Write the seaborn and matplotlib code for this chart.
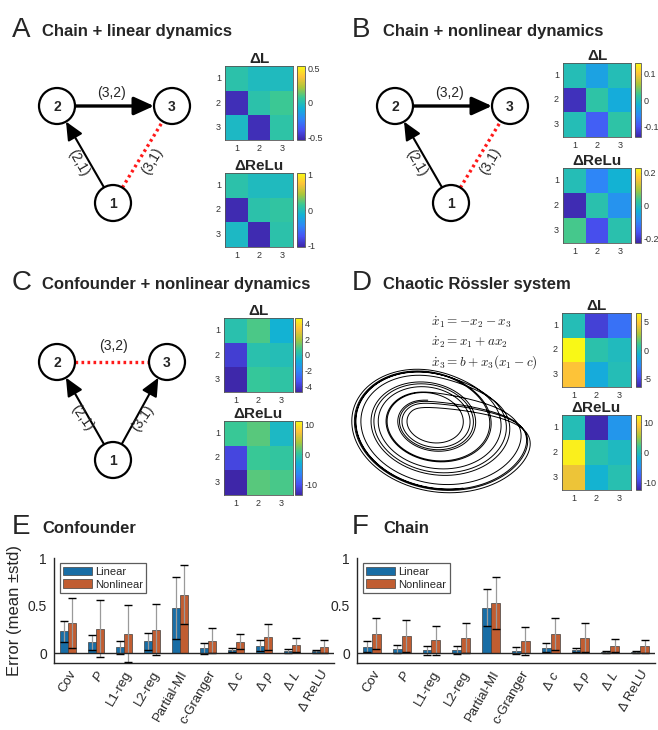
import numpy as np
import pandas as pd
import matplotlib
matplotlib.use("Agg")
import matplotlib.pyplot as plt
import seaborn as sns
from matplotlib.colors import LinearSegmentedColormap
from matplotlib.patches import Circle, FancyArrowPatch

# ---------------- data ----------------
methods = ["Cov", "P", "L1-reg", "L2-reg", "Partial-MI", "c-Granger", "Δc", "Δp", "ΔL", "ΔReLU"]
method_labels = ["Cov", "$P$", "L1-reg", "L2-reg", "Partial-MI", "c-Granger",
                 "Δ $c$", "Δ $p$", "Δ $L$", "Δ ReLU"]
dynamics = ["Linear", "Nonlinear"]

conf_lin_mean = [0.235, 0.117, 0.064, 0.128, 0.473, 0.053, 0.039, 0.082, 0.025, 0.021]
conf_lin_std = [0.110, 0.078, 0.068, 0.087, 0.325, 0.055, 0.022, 0.055, 0.020, 0.015]
conf_non_mean = [0.320, 0.260, 0.206, 0.250, 0.616, 0.135, 0.125, 0.174, 0.089, 0.071]
conf_non_std = [0.265, 0.295, 0.300, 0.270, 0.310, 0.135, 0.080, 0.133, 0.077, 0.068]
chain_lin_mean = [0.069, 0.045, 0.031, 0.035, 0.481, 0.028, 0.062, 0.035, 0.017, 0.014]
chain_lin_std = [0.058, 0.042, 0.042, 0.041, 0.190, 0.035, 0.050, 0.022, 0.011, 0.013]
chain_non_mean = [0.208, 0.183, 0.138, 0.163, 0.526, 0.131, 0.208, 0.166, 0.083, 0.073]
chain_non_std = [0.160, 0.163, 0.150, 0.160, 0.270, 0.150, 0.167, 0.150, 0.068, 0.069]

node_ticks = [1, 2, 3]
A_dL = [[0.03, -0.02, -0.02], [-0.50, 0.03, 0.08], [-0.03, -0.50, 0.04]]
A_dReLu = [[0.06, -0.04, -0.04], [-1.00, 0.06, 0.10], [-0.06, -1.00, 0.06]]
B_dL = [[0.00, -0.035, 0.00], [-0.13, 0.01, -0.025], [0.00, -0.09, 0.01]]
B_dReLu = [[0.00, -0.10, -0.03], [-0.22, 0.01, -0.08], [0.04, -0.17, 0.01]]
C_dL = [[0.2, 0.9, -0.6], [-4.0, 0.2, 0.0], [-4.7, 0.6, 0.4]]
C_dReLu = [[0.5, 1.5, -2.0], [-11.0, 0.5, 0.0], [-13.5, 1.5, 1.0]]
D_dL = [[0.0, -5.3, -3.5], [6.3, 0.3, -0.2], [4.5, -1.2, 0.0]]
D_dReLu = [[0.0, -12.0, -4.0], [11.5, 0.5, -0.5], [8.0, -1.5, 0.3]]

# ---------------- style ----------------
sns.set_style("white")
plt.rcParams["font.family"] = ["Liberation Sans", "DejaVu Sans"]
plt.rcParams["mathtext.fontset"] = "custom"
plt.rcParams["mathtext.rm"] = "Liberation Sans"
plt.rcParams["mathtext.it"] = "Liberation Sans:italic"
plt.rcParams["axes.unicode_minus"] = False

parula = LinearSegmentedColormap.from_list("parula", [
    (0.2422, 0.1504, 0.6603), (0.2810, 0.3228, 0.9579), (0.1786, 0.5289, 0.9682),
    (0.0689, 0.6948, 0.8394), (0.2161, 0.7843, 0.5923), (0.6720, 0.7793, 0.2227),
    (0.9970, 0.7659, 0.2199), (0.9769, 0.9839, 0.0805)])

W, H = 658, 730
fig = plt.figure(figsize=(W / 100, H / 100), dpi=100, facecolor="white")


def add_px(x0, y0, x1, y1):
    return fig.add_axes([x0 / W, 1 - y1 / H, (x1 - x0) / W, (y1 - y0) / H])


ov = fig.add_axes([0, 0, 1, 1])
ov.set_xlim(0, W)
ov.set_ylim(H, 0)
ov.axis("off")

# ---------------- panel titles ----------------
for letter, title, lx, tx, by in [("A", "Chain + linear dynamics", 12, 42, 37),
                                  ("B", "Chain + nonlinear dynamics", 352, 383, 37),
                                  ("C", "Confounder + nonlinear dynamics", 12, 42, 290),
                                  ("D", "Chaotic Rössler system", 352, 383, 290),
                                  ("E", "Confounder", 12, 42, 534),
                                  ("F", "Chain", 352, 383, 534)]:
    ov.text(lx, by, letter, fontsize=20, va="baseline", ha="left")
    ov.text(tx, by - 1, title, fontsize=12, fontweight="bold", va="baseline", ha="left")

# ---------------- graphs ----------------
R = 18


def node(c, lab):
    ov.add_patch(Circle(c, R, facecolor="white", edgecolor="black", lw=1.6, zorder=3))
    ov.text(c[0], c[1] + 1, lab, fontsize=10, fontweight="bold", ha="center", va="center", zorder=4)


def edge(p, q, kind="arrow", lw=1.5, ms=20):
    p = np.array(p, float)
    q = np.array(q, float)
    d = (q - p) / np.linalg.norm(q - p)
    a = p + d * R
    b = q - d * R
    if kind == "arrow":
        ov.add_patch(FancyArrowPatch(a, b, arrowstyle="-|>,head_length=0.55,head_width=0.25",
                                     mutation_scale=ms, lw=lw, color="black",
                                     shrinkA=0, shrinkB=0, zorder=2))
    else:
        ov.plot([a[0], b[0]], [a[1], b[1]], color="#ff1a1a", lw=2.4,
                ls=(0, (0.8, 1.0)), zorder=2)


def chain_graph(dx):
    n2, n3, n1 = (57 + dx, 106), (172 + dx, 106), (113 + dx, 203)
    edge(n2, n3, lw=2.4, ms=22)
    edge(n1, n2, lw=1.5, ms=20)
    edge(n1, n3, kind="dot")
    for c, l in [(n1, "1"), (n2, "2"), (n3, "3")]:
        node(c, l)
    ov.text(112 + dx, 93, "(3,2)", fontsize=10, ha="center", va="center")
    ov.text(78 + dx, 163, "(2,1)", fontsize=10, ha="center", va="center", rotation=-60)
    ov.text(152 + dx, 161, "(3,1)", fontsize=10, ha="center", va="center", rotation=60)


chain_graph(0)
chain_graph(338)

n2, n3, n1 = (57, 362), (167, 362), (113, 460)
edge(n1, n2, lw=1.5, ms=20)
edge(n1, n3, lw=1.5, ms=20)
edge(n2, n3, kind="dot")
for c, l in [(n1, "1"), (n2, "2"), (n3, "3")]:
    node(c, l)
ov.text(113, 346, "(3,2)", fontsize=10, ha="center", va="center")
ov.text(82, 418, "(2,1)", fontsize=10, ha="center", va="center", rotation=-55)
ov.text(143, 418, "(3,1)", fontsize=10, ha="center", va="center", rotation=55)


# ---------------- heatmaps ----------------
def heat(mat, box, cbx, vmin, vmax, ticks, ticklabels, title):
    ax = add_px(*box)
    cax = add_px(cbx[0], box[1], cbx[1], box[3])
    sns.heatmap(np.array(mat), ax=ax, cbar_ax=cax, cmap=parula, vmin=vmin, vmax=vmax,
                xticklabels=node_ticks, yticklabels=node_ticks)
    for s in ax.spines.values():
        s.set_visible(True)
        s.set_linewidth(0.6)
        s.set_color("#555555")
    ax.tick_params(length=2, width=0.5, direction="in", labelsize=6.5, pad=3, colors="#333333")
    ax.tick_params(axis="y", labelrotation=0)
    ax.set_title(title, fontsize=11, fontweight="bold", pad=2)
    cb = ax.collections[0].colorbar
    cb.outline.set_linewidth(0.6)
    cb.outline.set_edgecolor("#555555")
    cax.set_yticks(ticks)
    cax.set_yticklabels(ticklabels)
    cax.tick_params(length=1.5, width=0.5, direction="in", labelsize=6.5, pad=2, colors="#333333")


heat(A_dL, (225, 66, 293, 140), (297, 305), -0.53, 0.53, [-0.5, 0, 0.5], ["-0.5", "0", "0.5"], "ΔL")
heat(A_dReLu, (225, 173, 293, 247), (297, 305), -1.04, 1.04, [-1, 0, 1], ["-1", "0", "1"], "ΔReLu")
heat(B_dL, (563, 63, 631, 137), (635, 641), -0.14, 0.14, [-0.1, 0, 0.1], ["-0.1", "0", "0.1"], "ΔL")
heat(B_dReLu, (563, 168, 631, 243), (635, 641), -0.23, 0.23, [-0.2, 0, 0.2], ["-0.2", "0", "0.2"], "ΔReLu")
heat(C_dL, (224, 318, 293, 392), (295, 302), -4.75, 4.75, [-4, -2, 0, 2, 4], ["-4", "-2", "0", "2", "4"], "ΔL")
heat(C_dReLu, (224, 421, 293, 495), (295, 302), -13.5, 11, [-10, 0, 10], ["-10", "0", "10"], "ΔReLu")
heat(D_dL, (562, 313, 631, 387), (636, 641), -6.4, 6.4, [-5, 0, 5], ["-5", "0", "5"], "ΔL")
heat(D_dReLu, (562, 415, 631, 490), (636, 641), -12.3, 12.3, [-10, 0, 10], ["-10", "0", "10"], "ΔReLu")

# ---------------- Rossler ----------------
ra, rb, rc = 0.2, 0.2, 5.7


def f(s):
    x, y, z = s
    return np.array([-y - z, x + ra * y, rb + z * (x - rc)])


s = np.array([1.0, 1.0, 0.0])
dt = 0.01
traj = []
for i in range(14000):
    k1 = f(s)
    k2 = f(s + dt / 2 * k1)
    k3 = f(s + dt / 2 * k2)
    k4 = f(s + dt * k3)
    s = s + dt / 6 * (k1 + 2 * k2 + 2 * k3 + k4)
    if i >= 6000:
        traj.append(s.copy())
traj = np.array(traj)
axr = add_px(350, 368, 532, 494)
sns.lineplot(x=traj[:, 0], y=traj[:, 1], sort=False, estimator=None, ax=axr,
             color="black", lw=0.7)
axr.margins(0.01)
axr.axis("off")

eqs = [r"$\dot{x}_1 = -x_2 - x_3$", r"$\dot{x}_2 = x_1 + a x_2$", r"$\dot{x}_3 = b + x_3(x_1 - c)$"]
for i, e in enumerate(eqs):
    ov.text(431, 322 + 20 * i, e, fontsize=9.5, math_fontfamily="cm", va="center", ha="left",
            color="#222222")


# ---------------- bar charts ----------------
def bars(box, lin_m, lin_s, non_m, non_s, ylabel):
    ax = add_px(*box)
    df = pd.DataFrame({
        "method": methods * 2,
        "dynamics": [dynamics[0]] * len(methods) + [dynamics[1]] * len(methods),
        "value": list(lin_m) + list(non_m),
    })
    sns.barplot(data=df, x="method", y="value", hue="dynamics", order=methods,
                hue_order=dynamics, palette=["#0072BD", "#D95319"], width=0.6,
                errorbar=None, edgecolor="#404040", linewidth=0.5, ax=ax)
    for cont, m, sd in zip(ax.containers, [lin_m, non_m], [lin_s, non_s]):
        xs = [p.get_x() + p.get_width() / 2 for p in cont]
        eb = ax.errorbar(xs, m, yerr=sd, fmt="none", ecolor="#9a9a9a", elinewidth=0.9,
                         capsize=2.9, capthick=1.0, zorder=3)
        for cl in eb[1]:
            cl.set_color("black")
            cl.set_markeredgecolor("black")
    ax.axhline(0, color="#262626", lw=1.0, zorder=4)
    ax.set_xlim(-0.5, 9.5)
    ax.set_ylim(-0.1, 1)
    ax.set_yticks([0, 0.5, 1])
    ax.set_yticklabels(["0", "0.5", "1"])
    ax.set_xticks(range(len(methods)))
    ax.set_xticklabels(method_labels, rotation=60, ha="right", rotation_mode="anchor")
    ax.set_xlabel("")
    ax.set_ylabel(ylabel, fontsize=12, labelpad=4)
    for k in ["top", "right"]:
        ax.spines[k].set_visible(False)
    for k in ["left", "bottom"]:
        ax.spines[k].set_color("#262626")
        ax.spines[k].set_linewidth(1.0)
    ax.tick_params(axis="y", direction="out", length=3, width=0.8, labelsize=10, pad=2, colors="#262626")
    ax.tick_params(axis="x", direction="out", length=2, width=0.8, labelsize=9.5, pad=2, colors="#262626")
    leg = ax.legend(loc="upper left", bbox_to_anchor=(0.02, 0.95), borderaxespad=0,
                    fontsize=8, frameon=True, fancybox=False, edgecolor="#333333",
                    handlelength=2.6, handleheight=0.8, handletextpad=0.3,
                    borderpad=0.3, labelspacing=0.25, title=None)
    leg.get_frame().set_linewidth(0.9)
    return ax


bars((54, 558, 334, 663), conf_lin_mean, conf_lin_std, conf_non_mean, conf_non_std, "Error (mean ±std)")
bars((357, 558, 655, 663), chain_lin_mean, chain_lin_std, chain_non_mean, chain_non_std, "")

fig.savefig("out.png", dpi=100, facecolor="white")
